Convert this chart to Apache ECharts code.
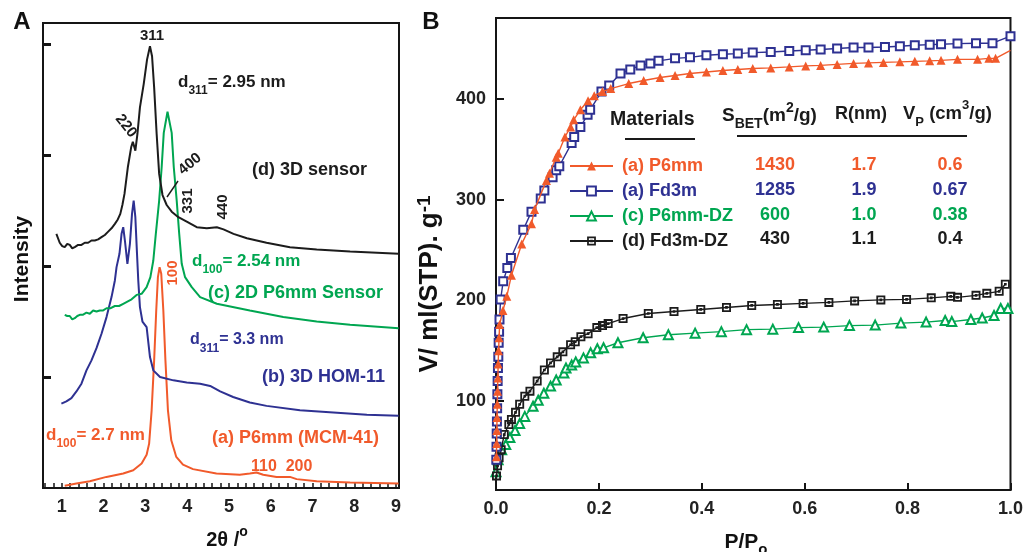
<!DOCTYPE html>
<html>
<head>
<meta charset="utf-8">
<script src="https://cdn.jsdelivr.net/npm/echarts@6/dist/echarts.min.js"></script>
<style>
  html, body { margin: 0; padding: 0; background: #fff; }
  #chart { width: 1026px; height: 552px; }
</style>
</head>
<body>
<div id="chart"></div>
<script>
// ---------- Panel A: low-angle XRD patterns (2θ in degrees, intensity a.u., curves offset) ----------
const xrdP6mm = [[1.07,0.02],[1.35,0.04],[1.67,0.06],[2.07,0.10],[2.47,0.13],[2.71,0.16],[2.91,0.22],[3.03,0.30],[3.09,0.40],[3.15,0.70],[3.21,1.15],[3.26,1.60],[3.30,1.90],[3.34,1.99],[3.38,1.93],[3.43,1.60],[3.48,1.15],[3.54,0.70],[3.62,0.43],[3.74,0.28],[3.90,0.21],[4.14,0.17],[4.70,0.13],[5.26,0.12],[5.50,0.13],[5.66,0.14],[5.82,0.12],[6.14,0.10],[6.46,0.10],[6.62,0.08],[7.10,0.06],[7.90,0.05],[9.06,0.04]];
const xrdHom11 = [[0.99,0.76],[1.11,0.78],[1.23,0.81],[1.35,0.87],[1.47,0.94],[1.59,1.06],[1.71,1.15],[1.83,1.26],[1.95,1.39],[2.07,1.54],[2.19,1.72],[2.27,1.87],[2.31,1.99],[2.38,2.11],[2.43,2.29],[2.47,2.35],[2.51,2.23],[2.57,2.02],[2.63,2.20],[2.68,2.47],[2.72,2.59],[2.76,2.44],[2.80,2.11],[2.83,1.87],[2.87,1.63],[2.93,1.50],[2.96,1.51],[3.03,1.45],[3.11,1.18],[3.19,1.06],[3.35,1.00],[3.67,0.97],[3.99,0.95],[4.31,0.94],[4.55,0.92],[4.79,0.87],[5.10,0.82],[5.50,0.77],[5.90,0.74],[6.70,0.70],[7.50,0.68],[8.30,0.66],[9.06,0.65]];
const xrdP6mmSensor = [[1.07,1.56],[1.13,1.55],[1.19,1.55],[1.25,1.52],[1.31,1.53],[1.37,1.55],[1.43,1.56],[1.50,1.56],[1.59,1.58],[1.67,1.57],[1.75,1.60],[1.83,1.59],[1.91,1.60],[1.99,1.60],[2.07,1.62],[2.17,1.62],[2.27,1.64],[2.37,1.64],[2.47,1.66],[2.57,1.68],[2.67,1.70],[2.79,1.74],[2.91,1.75],[3.03,1.81],[3.12,1.90],[3.19,2.05],[3.25,2.29],[3.33,2.59],[3.39,2.89],[3.44,3.20],[3.53,3.39],[3.63,3.20],[3.68,2.89],[3.75,2.59],[3.81,2.29],[3.87,2.02],[3.95,1.90],[4.11,1.81],[4.31,1.72],[4.71,1.66],[5.50,1.60],[6.30,1.54],[7.10,1.50],[7.90,1.47],[9.06,1.44]];
const xrdSensor3D = [[0.87,2.29],[0.95,2.21],[1.01,2.18],[1.07,2.17],[1.13,2.20],[1.19,2.19],[1.25,2.16],[1.31,2.17],[1.39,2.19],[1.47,2.19],[1.55,2.21],[1.63,2.21],[1.71,2.23],[1.79,2.23],[1.87,2.24],[1.95,2.26],[2.03,2.28],[2.11,2.31],[2.19,2.34],[2.27,2.38],[2.34,2.42],[2.40,2.47],[2.45,2.55],[2.50,2.65],[2.58,2.89],[2.66,3.07],[2.70,3.12],[2.76,3.04],[2.81,3.19],[2.87,3.43],[2.96,3.64],[3.04,3.86],[3.11,3.98],[3.16,3.89],[3.21,3.61],[3.27,3.19],[3.33,2.83],[3.41,2.64],[3.51,2.55],[3.63,2.49],[3.79,2.44],[3.99,2.40],[4.23,2.35],[4.47,2.34],[4.71,2.35],[4.87,2.33],[5.11,2.29],[5.43,2.25],[5.90,2.21],[6.46,2.17],[7.10,2.15],[7.90,2.13],[9.06,2.11]];
const xrdTickLabels = [1, 2, 3, 4, 5, 6, 7, 8, 9];
const xrdIntensityTicks = [1, 2, 3, 4];

// ---------- Panel B: N2 sorption isotherms (P/P0, V in ml(STP)/g) ----------
const isoP6mm = [[0.0008,45],[0.0012,58],[0.0016,71],[0.002,84],[0.0025,97],[0.003,110],[0.0036,123],[0.0042,137],[0.005,150],[0.006,163],[0.007,176],[0.0135,190],[0.021,204],[0.030,225],[0.050,256],[0.069,276],[0.075,290],[0.098,319],[0.104,326],[0.117,342],[0.121,346],[0.134,362],[0.145,372],[0.151,379],[0.164,389],[0.179,398],[0.191,403],[0.207,407],[0.223,410],[0.258,415],[0.287,418],[0.319,421],[0.348,423],[0.377,425],[0.409,426.5],[0.441,428],[0.470,429],[0.499,430],[0.534,430.5],[0.570,431.5],[0.602,432.5],[0.631,433],[0.663,434],[0.695,435],[0.724,435.5],[0.753,436],[0.785,436.5],[0.814,437],[0.843,437.5],[0.865,438],[0.897,439],[0.936,439],[0.958,440],[0.971,440],[1.0,448]];
const isoFd3m = [[0.0006,42],[0.001,55],[0.0014,68],[0.0018,80],[0.0022,93],[0.0027,107],[0.0032,120],[0.0038,133],[0.0045,144],[0.0052,158],[0.006,169],[0.0068,181],[0.009,201],[0.014,219],[0.022,232],[0.029,242],[0.053,270],[0.069,288],[0.087,301],[0.094,309],[0.110,322],[0.117,329],[0.123,333],[0.147,356],[0.152,362],[0.164,372],[0.178,384],[0.183,389],[0.205,407],[0.220,413],[0.242,425],[0.261,429],[0.281,433],[0.300,435],[0.316,437.5],[0.348,440],[0.377,441],[0.409,443],[0.441,444],[0.470,444.7],[0.499,445.7],[0.534,446.3],[0.570,447.3],[0.602,448],[0.631,448.7],[0.663,449.7],[0.695,450.7],[0.724,450.7],[0.756,451.3],[0.785,452],[0.814,453],[0.843,453.6],[0.865,454],[0.897,454.6],[0.933,455],[0.965,455],[1.0,462]];
const isoP6mmDZ = [[0.0,30],[0.004,42],[0.011,52],[0.019,57],[0.027,64],[0.037,71],[0.046,78],[0.056,85],[0.072,95],[0.082,101],[0.093,108],[0.106,115],[0.117,121],[0.132,128],[0.136,133],[0.147,136],[0.155,139],[0.170,143],[0.184,148],[0.197,152],[0.209,153],[0.237,158],[0.286,163],[0.335,166],[0.387,167.5],[0.438,169],[0.487,171],[0.538,171.5],[0.588,173],[0.637,173.5],[0.687,175],[0.737,175.5],[0.787,177.5],[0.836,178.5],[0.873,180],[0.886,179],[0.923,181],[0.945,182.5],[0.968,185],[0.981,192],[0.995,192]];
const isoFd3mDZ = [[0.001,26],[0.003,36],[0.006,44],[0.010,52],[0.016,67],[0.025,77],[0.030,82],[0.038,89],[0.046,97],[0.056,105],[0.066,110],[0.080,120],[0.094,131],[0.106,138],[0.119,144],[0.130,149],[0.145,156],[0.154,159],[0.165,164],[0.179,167],[0.196,173],[0.207,175],[0.218,177],[0.247,182],[0.296,187],[0.346,189],[0.398,191],[0.448,193],[0.497,195],[0.547,196],[0.597,197],[0.647,198],[0.697,199.5],[0.748,200.5],[0.798,201],[0.846,202.5],[0.884,204],[0.897,203],[0.933,205],[0.954,207],[0.978,209],[0.990,216]];
const isoTickLabels = [100, 200, 300, 400];

// ---------- Texture table ----------
const materials = ['(a) P6mm', '(a) Fd3m', '(c) P6mm-DZ', '(d) Fd3m-DZ'];
const sBET = ['1430', '1285', '600', '430'];
const poreRadius = ['1.7', '1.9', '1.0', '1.1'];
const poreVolume = ['0.6', '0.67', '0.38', '0.4'];

// ---------- Styling ----------
const FONT = '"Liberation Sans", Arial, Helvetica, sans-serif';
const RED = '#F15A2B', BLUE = '#2E3192', GREEN = '#00A651', BLACK = '#1C1C1C', AXIS = '#151515';
const materialColors = [RED, BLUE, GREEN, BLACK];

const xrdMinorTicks = [];
for (let t = 6; t <= 90; t += 2) xrdMinorTicks.push(t / 10);

function text(x, y, str, color, size, opt) {
  opt = opt || {};
  return {
    type: 'text', x: x, y: y, rotation: (opt.rot || 0) * Math.PI / 180, z: 50,
    style: { text: str, fill: color, font: 'bold ' + size + 'px ' + FONT,
             align: opt.align || 'center', verticalAlign: 'middle' }
  };
}
// rich text helper: m = main, s = subscript, p = superscript
function richText(x, y, str, color, size, opt) {
  opt = opt || {};
  const small = Math.round(size * 0.72);
  const tok = (fs, lh, va) => ({ fontSize: fs, fontWeight: 'bold', fontFamily: FONT, fill: color, lineHeight: lh, verticalAlign: va });
  return {
    type: 'text', x: x, y: y, rotation: (opt.rot || 0) * Math.PI / 180, z: 50,
    style: {
      text: str, align: opt.align || 'left', verticalAlign: 'middle',
      rich: { m: tok(size, 30, 'middle'), s: tok(small, 18, 'bottom'), p: tok(small, 14, 'top') }
    }
  };
}

const gridA = { left: 43, top: 23, width: 356, height: 465 };
const gridB = { left: 496, top: 18, width: 519, height: 472 };

const axisLabelStyle = { fontSize: 18, fontWeight: 'bold', fontFamily: FONT, color: '#222' };

const graphics = [
  text(22, 22, 'A', '#111', 24),
  text(431, 22, 'B', '#111', 24),
  text(22, 259, 'Intensity', '#111', 21, { rot: 90 }),
  richText(227, 540, '{m|2θ /}{p|o}', '#111', 20, { align: 'center' }),
  richText(746, 542, '{m|P/P}{s|o}', '#111', 21, { align: 'center' }),
  richText(430, 284, '{m|V/ ml(STP). g}{p|-1}', '#111', 26, { rot: 90, align: 'center' }),
  // peak indices and d-spacings
  text(152, 36, '311', BLACK, 15),
  richText(178, 82, '{m|d}{s|311}{m|= 2.95 nm}', BLACK, 17),
  text(126, 126, '220', BLACK, 15, { rot: -52 }),
  text(190, 164, '400', BLACK, 15, { rot: 40 }),
  { type: 'line', z: 50, shape: { x1: 167, y1: 197, x2: 178, y2: 181 }, style: { stroke: BLACK, lineWidth: 1.5 } },
  text(188, 201, '331', BLACK, 15, { rot: 90 }),
  text(223, 207, '440', BLACK, 15, { rot: 90 }),
  text(252, 170, '(d) 3D sensor', BLACK, 18, { align: 'left' }),
  richText(192, 261, '{m|d}{s|100}{m|= 2.54 nm}', GREEN, 17),
  text(208, 293, '(c) 2D P6mm Sensor', GREEN, 18, { align: 'left' }),
  richText(190, 340, '{m|d}{s|311}{m|= 3.3 nm}', BLUE, 16),
  text(262, 377, '(b) 3D HOM-11', BLUE, 18, { align: 'left' }),
  text(173, 273, '100', RED, 15, { rot: 90 }),
  richText(46, 435, '{m|d}{s|100}{m|= 2.7 nm}', RED, 17),
  text(212, 438, '(a) P6mm (MCM-41)', RED, 18, { align: 'left' }),
  text(264, 467, '110', RED, 16),
  text(299, 467, '200', RED, 16),
  // texture table header
  text(610, 120, 'Materials', '#1a1a1a', 19.5, { align: 'left' }),
  richText(722, 116, '{m|S}{s|BET}{m|(m}{p|2}{m|/g)}', '#1a1a1a', 19),
  text(835, 114, 'R(nm)', '#1a1a1a', 18, { align: 'left' }),
  richText(903, 114, '{m|V}{s|P}{m| (cm}{p|3}{m|/g)}', '#1a1a1a', 18.5),
  { type: 'line', z: 50, shape: { x1: 625, y1: 139, x2: 695, y2: 139 }, style: { stroke: '#1a1a1a', lineWidth: 2 } },
  { type: 'line', z: 50, shape: { x1: 737, y1: 136, x2: 967, y2: 136 }, style: { stroke: '#1a1a1a', lineWidth: 2 } }
];
const rowY = [165, 190, 215, 239];
materials.forEach((m, i) => {
  graphics.push(text(775, rowY[i], sBET[i], materialColors[i], 18));
  graphics.push(text(864, rowY[i], poreRadius[i], materialColors[i], 18));
  graphics.push(text(950, rowY[i], poreVolume[i], materialColors[i], 18));
});

function xrdLine(name, data, color) {
  return { name: name, type: 'line', xAxisIndex: 0, yAxisIndex: 0, data: data, showSymbol: false,
           lineStyle: { color: color, width: 2 }, itemStyle: { color: color }, silent: true, z: 3 };
}
function isoLine(name, data, color, symbol, size, borderWidth, z) {
  return { name: name, type: 'line', xAxisIndex: 1, yAxisIndex: 1, clip: false, z: z,
           data: data.map((p, i) => (name === materials[0] && i === data.length - 1) ? { value: p, symbol: 'none' } : p),
           symbol: symbol, symbolSize: size, showSymbol: true,
           lineStyle: { color: color, width: 1.4 },
           itemStyle: { color: color, borderColor: color, borderWidth: borderWidth }, silent: true };
}
const dottedSquare = 'path://M0,0L10,0L10,10L0,10Z M2,2L2,8L8,8L8,2Z M3.5,3.5L6.5,3.5L6.5,6.5L3.5,6.5Z';

const option = {
  backgroundColor: '#fff',
  animation: false,
  grid: [
    Object.assign({ show: true, borderColor: AXIS, borderWidth: 2, containLabel: false }, gridA),
    Object.assign({ show: true, borderColor: AXIS, borderWidth: 2, containLabel: false }, gridB)
  ],
  xAxis: [
    { gridIndex: 0, type: 'value', min: 0.55, max: 9.07,
      axisLine: { show: true, lineStyle: { color: AXIS, width: 2 } },
      axisTick: { show: true, inside: true, length: 5, lineStyle: { color: AXIS, width: 1.5 }, customValues: xrdMinorTicks },
      axisLabel: Object.assign({ margin: 10, customValues: xrdTickLabels }, axisLabelStyle),
      splitLine: { show: false } },
    { gridIndex: 1, type: 'value', min: 0, max: 1, interval: 0.2,
      axisLine: { show: true, lineStyle: { color: AXIS, width: 2 } },
      axisTick: { show: true, inside: true, length: 7, lineStyle: { color: AXIS, width: 2 } },
      axisLabel: Object.assign({ margin: 10, formatter: v => v.toFixed(1) }, axisLabelStyle),
      splitLine: { show: false } }
  ],
  yAxis: [
    { gridIndex: 0, type: 'value', min: 0, max: 4.19,
      axisLine: { show: true, lineStyle: { color: AXIS, width: 2 } },
      axisTick: { show: true, inside: true, length: 8, lineStyle: { color: AXIS, width: 3 }, customValues: xrdIntensityTicks },
      axisLabel: { show: false }, splitLine: { show: false } },
    { gridIndex: 1, type: 'value', min: 12, max: 480,
      axisLine: { show: true, lineStyle: { color: AXIS, width: 2 } },
      axisTick: { show: true, inside: true, length: 8, lineStyle: { color: AXIS, width: 2 }, customValues: isoTickLabels },
      axisLabel: Object.assign({ margin: 10, customValues: isoTickLabels }, axisLabelStyle),
      splitLine: { show: false } }
  ],
  legend: {
    orient: 'vertical', left: 569, top: 156, itemWidth: 43, itemHeight: 11, itemGap: 5,
    selectedMode: false, padding: 0,
    textStyle: { fontSize: 18, fontWeight: 'bold', fontFamily: FONT, lineHeight: 20, padding: [0, 0, 0, 4] },
    data: materials.map((m, i) => ({ name: m, textStyle: { color: materialColors[i] } }))
  },
  graphic: graphics,
  series: [
    xrdLine('(a) P6mm (MCM-41)', xrdP6mm, RED),
    xrdLine('(b) 3D HOM-11', xrdHom11, BLUE),
    xrdLine('(c) 2D P6mm Sensor', xrdP6mmSensor, GREEN),
    xrdLine('(d) 3D sensor', xrdSensor3D, BLACK),
    isoLine(materials[2], isoP6mmDZ, GREEN, 'emptyTriangle', 9, 1.3, 3),
    isoLine(materials[3], isoFd3mDZ, BLACK, dottedSquare, 9, 0, 4),
    isoLine(materials[1], isoFd3m, BLUE, 'emptyRect', 8, 1.3, 5),
    isoLine(materials[0], isoP6mm, RED, 'triangle', 9, 0, 6)
  ]
};

const chart = echarts.init(document.getElementById('chart'), null, { renderer: 'canvas' });
chart.setOption(option);
</script>
</body>
</html>
